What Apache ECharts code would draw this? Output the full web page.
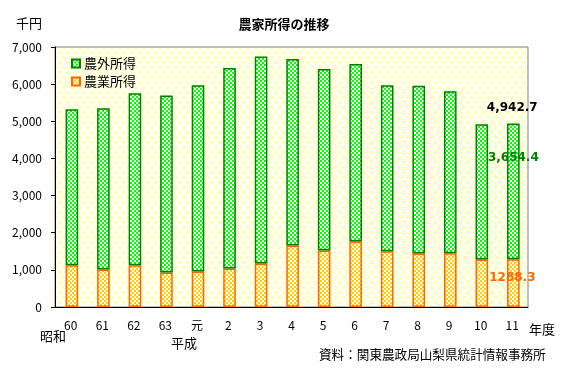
<!DOCTYPE html>
<html><head><meta charset="utf-8">
<script src="https://cdn.jsdelivr.net/npm/echarts@6/dist/echarts.min.js"></script>
<style>html,body{margin:0;padding:0;background:#fff}#c{width:563px;height:372px}</style>
</head><body><div id="c"></div>
<script>
const categories = ['60','61','62','63','元','2','3','4','5','6','7','8','9','10','11'];
const farmIncome = [1124,1008,1124,927,954,1035,1170,1657,1522,1765,1503,1441,1449,1278,1288.3];
const nonFarmIncome = [4200,4343,4633,4768,5019,5397,5576,5019,4883,4775,4470,4513,4362,3641,3654.4];
const yTicks = [0,1000,2000,3000,4000,5000,6000,7000];

function checker(c1){
  const cv=document.createElement('canvas');cv.width=4;cv.height=4;
  const g=cv.getContext('2d');g.fillStyle='#ffffff';g.fillRect(0,0,4,4);
  g.fillStyle=c1;g.fillRect(0,0,2,2);g.fillRect(2,2,2,2);return cv;
}
function diamonds(){
  const cv=document.createElement('canvas');cv.width=8;cv.height=10;
  const g=cv.getContext('2d');g.fillStyle='#ffffff';g.fillRect(0,0,8,10);
  g.fillStyle='#ffffc0';
  const d=(x,y)=>{g.beginPath();g.moveTo(x,y-3);g.lineTo(x+3.2,y);g.lineTo(x,y+3);g.lineTo(x-3.2,y);g.closePath();g.fill();};
  d(4,2.5);d(0,7.5);d(8,7.5);d(0,-2.5);d(8,-2.5);d(4,12.5);
  return cv;
}
const greenPat={image:checker('#00ff00'),repeat:'repeat'};
const orangePat={image:checker('#ffcc00'),repeat:'repeat'};
const bgPat={image:diamonds(),repeat:'repeat'};
const F='"Noto Sans CJK JP", sans-serif';
const NF='"DejaVu Sans", sans-serif';
const n=categories.length-1;
const fmt=v=>v.toLocaleString('en-US',{minimumFractionDigits:1,maximumFractionDigits:1});

const chart=echarts.init(document.getElementById('c'),null,{renderer:'canvas'});
const nonData=nonFarmIncome.map((v,i)=>i===n?{value:v,label:{show:true,position:'insideTop',distance:28,formatter:()=>fmt(v),color:'#008000',fontWeight:'bold',fontSize:12,fontFamily:NF}}:v);
const farmData=farmIncome.map((v,i)=>i===n?{value:v,label:{show:true,position:'inside',offset:[-1,-5],formatter:()=>String(v),color:'#ff6600',fontWeight:'bold',fontSize:12,fontFamily:NF}}:v);
chart.setOption({
  animation:false,
  title:{text:'農家所得の推移',left:279,textAlign:'center',top:13,textStyle:{fontSize:13,fontWeight:'bold',fontFamily:F,color:'#000'}},
  grid:{left:55,right:35,top:47,bottom:65,show:true,backgroundColor:bgPat,borderColor:'#808080',borderWidth:1},
  legend:{orient:'vertical',left:66,top:52,itemWidth:8,itemHeight:8,itemGap:5,icon:'rect',
    data:['農外所得','農業所得'],textStyle:{fontSize:13,fontFamily:F,color:'#000',padding:[0,0,0,-1]}},
  xAxis:{type:'category',data:categories,axisLine:{lineStyle:{color:'#000'}},axisTick:{show:false},
    axisLabel:{color:'#000',fontSize:12,fontFamily:F,margin:12}},
  yAxis:{type:'value',min:0,max:7000,interval:1000,axisLine:{show:true,lineStyle:{color:'#000'}},
    axisTick:{show:true,length:4,lineStyle:{color:'#000'}},splitLine:{show:false},
    axisLabel:{color:'#000',fontSize:12,fontFamily:F,margin:13,formatter:v=>yTicks.includes(v)?v.toLocaleString('en-US'):''}},
  series:[
    {name:'農業所得',type:'bar',stack:'a',barWidth:'40%',data:farmData,
      itemStyle:{color:orangePat,borderColor:'#ff6600',borderWidth:1.5}},
    {name:'農外所得',type:'bar',stack:'a',data:nonData,
      itemStyle:{color:greenPat,borderColor:'#008000',borderWidth:1.5}},
    {name:'total',type:'bar',stack:'b',barGap:'-100%',data:categories.map((c,i)=>i===n?{value:farmIncome[i]+nonFarmIncome[i],label:{show:true,position:'top',distance:10,formatter:()=>fmt(farmIncome[i]+nonFarmIncome[i]),color:'#000',fontWeight:'bold',fontSize:12,fontFamily:NF}}:0),
      itemStyle:{color:'transparent'},silent:true,z:5}
  ],
  graphic:[
    {type:'text',left:16,top:17,style:{text:'千円',fontSize:13,fontFamily:F,fill:'#000'}},
    {type:'text',left:40,top:330,style:{text:'昭和',fontSize:13,fontFamily:F,fill:'#000'}},
    {type:'text',left:171,top:337,style:{text:'平成',fontSize:13,fontFamily:F,fill:'#000'}},
    {type:'text',left:529,top:323,style:{text:'年度',fontSize:13,fontFamily:F,fill:'#000'}},
    {type:'text',left:319,top:348,style:{text:'資料：関東農政局山梨県統計情報事務所',fontSize:12.6,fontFamily:F,fill:'#000'}}
  ]
});
</script></body></html>
